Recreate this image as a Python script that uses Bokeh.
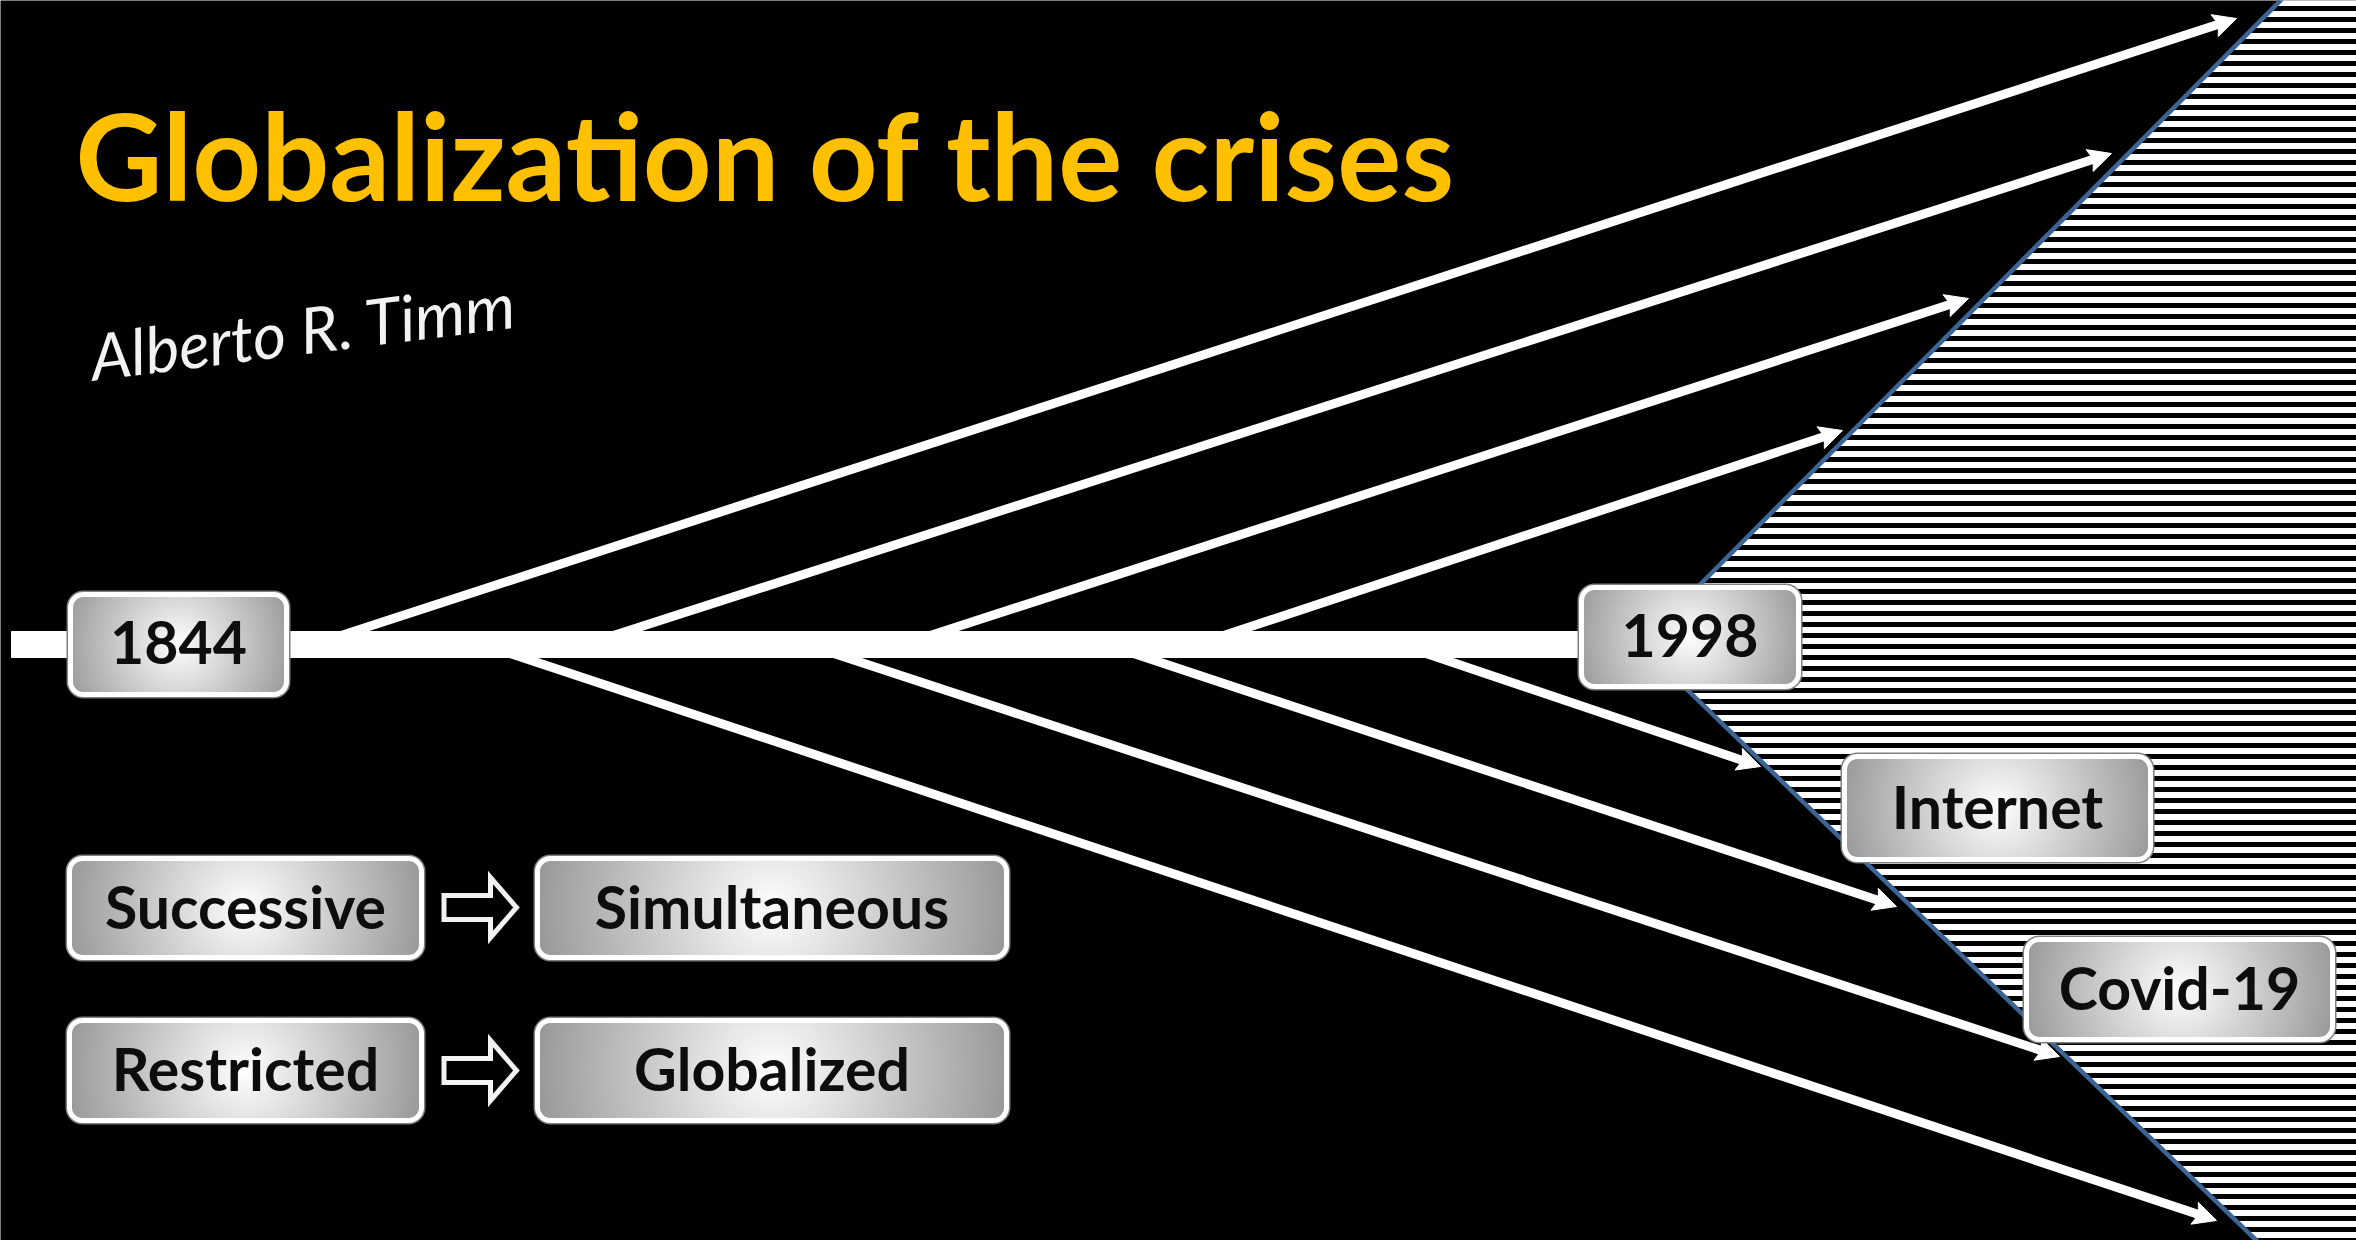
import numpy as np
from bokeh.plotting import figure
from bokeh.models import Range1d
from bokeh.core.properties import value
from bokeh.embed import file_html
from bokeh.resources import INLINE

# ---------------- data (diagram coordinates: pixels of a 2356x1240 canvas, y downward)
title_text = "Globalization of the crises"
author_text = "Alberto R. Timm"

box_labels = ["1844", "1998", "Internet", "Covid-19",
              "Successive", "Simultaneous", "Restricted", "Globalized"]
box_left = [67, 1578, 1841, 2023, 66, 534, 66, 534]
box_right = [289, 1801, 2153, 2335, 424, 1009, 424, 1009]
box_top = [591, 584, 753, 936, 855, 855, 1017, 1017]
box_bottom = [697, 689, 862, 1042, 960, 960, 1123, 1123]

timeline_y = 644
timeline_x0 = 11
wedge_apex_x = 1640
wedge_top_x = 2280      # where the wedge edge meets the top
wedge_bottom_x = 2256   # where the wedge edge meets the bottom

upper_start_x = [313, 585, 902, 1196]
upper_tip_x = [2236, 2111, 1968, 1842]
upper_tip_y = [18, 153, 298, 430]
lower_start_x = [483, 806, 1106, 1399]
lower_tip_x = [2216, 2059, 1896, 1760]
lower_tip_y = [1220, 1056, 906, 766]

transition_y = [907, 1070]
transition_x0 = 443.5
transition_tip = 516

W, H = 2356, 1240

p = figure(width=W, height=H,
           x_range=Range1d(0, W), y_range=Range1d(H, 0),
           x_axis_type=None, y_axis_type=None,
           toolbar_location=None, output_backend="svg",
           min_border=0, background_fill_color="black",
           border_fill_color="black", outline_line_color=None)

# ---------------- striped wedge
def wedge_x(y):
    y = np.asarray(y, dtype=float)
    up = wedge_apex_x + (timeline_y - y) * (wedge_top_x - wedge_apex_x) / timeline_y
    dn = wedge_apex_x + (y - timeline_y) * (wedge_bottom_x - wedge_apex_x) / (H - timeline_y)
    return np.where(y <= timeline_y, up, dn)

period, white_h, phase = 11.0, 6.0, 10.5
sxs, sys_ = [], []
for y0 in np.arange(phase - period, H + period, period):
    y1 = y0 + white_h
    ly = [y0, timeline_y, y1] if (y0 < timeline_y < y1) else [y0, y1]
    lx = list(wedge_x(ly))
    sxs.append(lx + [W + 20, W + 20])
    sys_.append(ly + [y1, y0])
p.patches(sxs, sys_, fill_color="white", line_color=None)

ext = 30
p.line([float(wedge_x(-ext)), wedge_apex_x, float(wedge_x(H + ext))],
       [-ext, timeline_y, H + ext], line_color="#3C6494", line_width=4.5)

# ---------------- arrows
def arrow(x0, y0, x1, y1, head_len=23.0, head_w=23.0, notch=4.0):
    d = np.array([x1 - x0, y1 - y0], dtype=float)
    u = d / np.hypot(*d)
    n = np.array([-u[1], u[0]])
    tip = np.array([x1, y1], dtype=float)
    base = tip - head_len * u
    c1 = base + n * head_w / 2
    c2 = base - n * head_w / 2
    back = tip - (head_len - notch) * u
    shaft_end = tip - (head_len - notch - 1) * u
    head = [tip, c1, back, c2]
    return shaft_end, [q[0] for q in head], [q[1] for q in head]

seg_x0, seg_y0, seg_x1, seg_y1, hx, hy = [], [], [], [], [], []
for sx, tx, ty in list(zip(upper_start_x, upper_tip_x, upper_tip_y)) + \
        list(zip(lower_start_x, lower_tip_x, lower_tip_y)):
    se, xs_, ys_ = arrow(sx, timeline_y, tx, ty)
    seg_x0.append(sx); seg_y0.append(timeline_y)
    seg_x1.append(se[0]); seg_y1.append(se[1])
    hx.append(xs_); hy.append(ys_)
p.segment(seg_x0, seg_y0, seg_x1, seg_y1, line_color="white", line_width=9, line_cap="butt")
p.patches(hx, hy, fill_color="white", line_color="white", line_width=1)

# main timeline bar
p.quad(left=[timeline_x0], right=[wedge_apex_x],
       top=[timeline_y - 13], bottom=[timeline_y + 13], color="white")

# ---------------- boxes
def rounded_rect(l, t, r, b, rad, n=10):
    xs, ys = [], []
    corners = [(r - rad, t + rad, -90, 0), (r - rad, b - rad, 0, 90),
               (l + rad, b - rad, 90, 180), (l + rad, t + rad, 180, 270)]
    for cx, cy, a0, a1 in corners:
        a = np.radians(np.linspace(a0, a1, n))
        xs.extend(cx + rad * np.cos(a))
        ys.extend(cy + rad * np.sin(a))
    return xs, ys

def gradient_image(w, h, rad, edge=150):
    yy, xx = np.mgrid[0:h, 0:w] + 0.5
    cx, cy = w / 2.0, h / 2.0
    d = np.hypot(xx - cx, yy - cy) / np.hypot(cx, cy)
    g = np.clip(255 - (255 - edge) * d, 0, 255).astype(np.uint8)
    qx = np.clip(np.abs(xx - cx) - (cx - rad), 0, None)
    qy = np.clip(np.abs(yy - cy) - (cy - rad), 0, None)
    inside = np.hypot(qx, qy) <= rad
    img = np.empty((h, w), dtype=np.uint32)
    view = img.view(dtype=np.uint8).reshape((h, w, 4))
    view[..., 0] = g
    view[..., 1] = g
    view[..., 2] = g
    view[..., 3] = np.where(inside, 255, 0).astype(np.uint8)
    return img

for l, t, r, b in zip(box_left, box_top, box_right, box_bottom):
    w, h = int(r - l), int(b - t)
    p.image_rgba(image=[gradient_image(w, h, 16)], x=l, y=t, dw=w, dh=h)

gx, gy, wx, wy = [], [], [], []
for l, t, r, b in zip(box_left, box_top, box_right, box_bottom):
    a, c = rounded_rect(l, t, r, b, 16)
    gx.append(a); gy.append(c)
    a, c = rounded_rect(l + 3, t + 3, r - 3, b - 3, 13)
    wx.append(a); wy.append(c)
p.patches(gx, gy, fill_color=None, line_color="#7F7F7F", line_width=2)
p.patches(wx, wy, fill_color=None, line_color="white", line_width=5)

box_fs = 59
cx = [(l + r) / 2 for l, r in zip(box_left, box_right)]
cy = [(t + b) / 2 - 2 for t, b in zip(box_top, box_bottom)]
p.text(x=cx, y=cy, text=box_labels, text_font=value("Lato"), text_font_style="bold",
       text_font_size=value(f"{box_fs}px"), text_align="center",
       text_baseline="alphabetic", text_color="#0D0D0D")

# hollow transition arrows
tx_, ty_ = [], []
for yc in transition_y:
    hb = 490
    tx_.append([transition_x0, hb, hb, transition_tip, hb, hb, transition_x0])
    ty_.append([yc - 12, yc - 12, yc - 30, yc, yc + 30, yc + 12, yc + 12])
p.patches(tx_, ty_, fill_color="black", line_color="#F2F2F2", line_width=5, line_join="miter")

# ---------------- title and signature
p.text(x=[75], y=[154], text=[title_text], text_font=value("Lato"), text_font_style="bold",
       text_font_size=value("120px"), text_color="#FFC000",
       text_align="left", text_baseline="alphabetic")
p.text(x=[90], y=[356], text=[author_text], angle=0.125, text_font=value("Lato"),
       text_font_style="italic", text_font_size=value("64px"), text_color="#F2F2F2",
       text_align="left", text_baseline="alphabetic")

open("out.html", "w").write(file_html(p, INLINE))
